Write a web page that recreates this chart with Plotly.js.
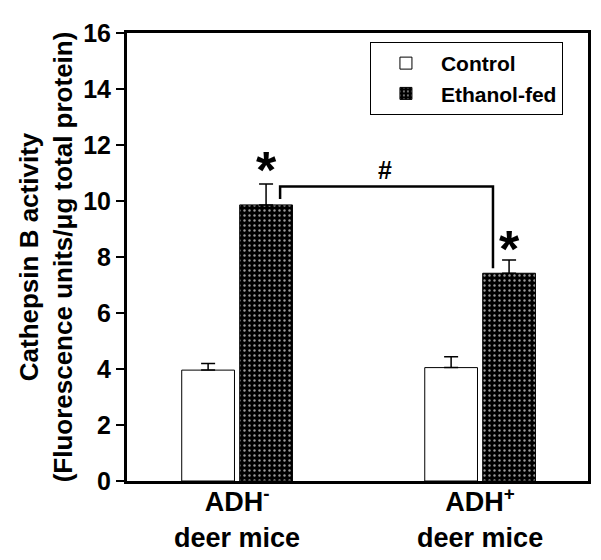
<!DOCTYPE html>
<html><head><meta charset="utf-8">
<script src="https://cdn.plot.ly/plotly-3.0.1.min.js"></script>
<style>body{margin:0;background:#fff}#chart{width:601px;height:560px}</style>
</head><body><div id="chart"></div>
<script>
const groups = ["ADH<sup>-</sup><br>deer mice", "ADH<sup>+</sup><br>deer mice"];
const controlValues = [3.96, 4.05];
const controlErrors = [0.24, 0.39];
const ethanolValues = [9.86, 7.42];
const ethanolErrors = [0.75, 0.47];
const yTicks = [0, 2, 4, 6, 8, 10, 12, 14, 16];
const sigMarks = ["*", "*"];
const bracketLabel = "#";

const F = "Liberation Sans, Arial, Helvetica, sans-serif";
const xIdx = groups.map((g, i) => i);
const halfOff = 0.12;

const traces = [
  {
    type: "bar", name: "Control", x: xIdx, y: controlValues,
    marker: {color: "#ffffff", line: {color: "#000", width: 1}},
    error_y: {type: "data", symmetric: false, array: controlErrors, arrayminus: controlValues.map(() => 0),
      color: "#000", thickness: 1.5, width: 7}
  },
  {
    type: "bar", name: "Ethanol-fed", x: xIdx, y: ethanolValues,
    marker: {color: "#000000", line: {color: "#000", width: 1},
      pattern: {shape: ".", fgcolor: "#9a9a9a", bgcolor: "#000000", size: 5, solidity: 0.18}},
    error_y: {type: "data", symmetric: false, array: ethanolErrors, arrayminus: ethanolValues.map(() => 0),
      color: "#000", thickness: 1.5, width: 7}
  }
];

const annotations = [
  {x: xIdx[0] + halfOff, y: ethanolValues[0] + ethanolErrors[0], text: sigMarks[0], showarrow: false,
   yanchor: "bottom", yshift: -17, font: {family: F, size: 52, weight: "bold", color: "#000"}},
  {x: xIdx[1] + halfOff, y: ethanolValues[1] + ethanolErrors[1], text: sigMarks[1], showarrow: false,
   yanchor: "bottom", yshift: -20, font: {family: F, size: 52, weight: "bold", color: "#000"}},
  {x: 0.61, y: 10.52, text: "<b>" + bracketLabel + "</b>", showarrow: false, yanchor: "bottom", yshift: 0,
   font: {family: F, size: 25, weight: "bold", color: "#000"}}
];

const bracketLeftX = xIdx[0] + 0.177, bracketRightX = xIdx[1] + 0.053;
const shapes = [
  {type: "path", xref: "x", yref: "y",
   path: `M ${bracketLeftX},10.07 L ${bracketLeftX},10.52 L ${bracketRightX},10.52 L ${bracketRightX},7.6`,
   line: {color: "#000", width: 2.5}}
];

const layout = {
  width: 601, height: 560,
  margin: {l: 127, r: 13, t: 33, b: 79},
  paper_bgcolor: "#fff", plot_bgcolor: "#fff",
  barmode: "group", bargap: 0.523, bargroupgap: 0.09,
  showlegend: true,
  legend: {x: 0.527, y: 0.98, xanchor: "left", yanchor: "top",
    bordercolor: "#000", borderwidth: 1, bgcolor: "#fff",
    font: {family: F, size: 21, weight: "bold", color: "#000"},
    itemwidth: 60, tracegroupgap: 0},
  xaxis: {type: "linear", range: [-0.453, 1.444], tickvals: xIdx, ticktext: groups,
    showgrid: false, zeroline: false, showline: true, linecolor: "#000", linewidth: 3, mirror: true,
    ticks: "", ticklabelstandoff: -5, tickfont: {family: F, size: 27, weight: "bold", color: "#000"}},
  yaxis: {range: [0, 16], tickvals: yTicks, ticktext: yTicks.map(String),
    showgrid: false, zeroline: false, showline: true, linecolor: "#000", linewidth: 3, mirror: true,
    ticks: "outside", ticklen: 8, tickwidth: 2, tickcolor: "#000",
    tickfont: {family: F, size: 25, weight: "bold", color: "#000"},
    title: {text: "Cathepsin B activity<br>(Fluorescence units/μg total protein)", standoff: 4,
      font: {family: F, size: 26, weight: "bold", color: "#000"}}},
  annotations: annotations, shapes: shapes
};

Plotly.newPlot("chart", traces, layout, {displayModeBar: false, staticPlot: true});
</script></body></html>
